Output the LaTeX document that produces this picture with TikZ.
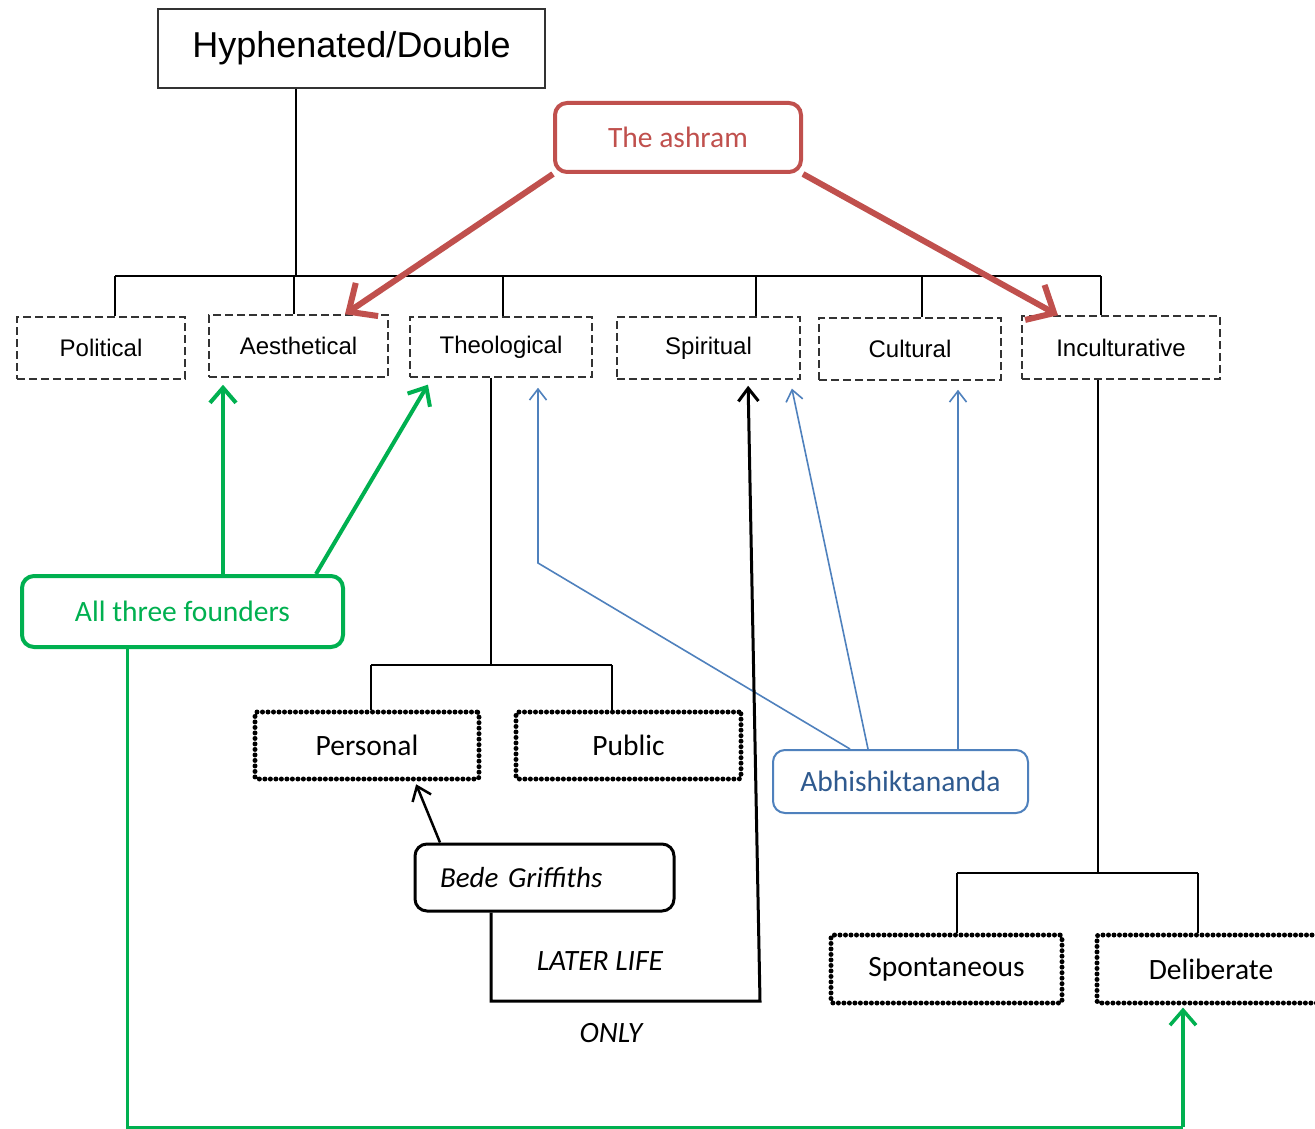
\documentclass[tikz,border=0pt]{standalone}
\usepackage{fontspec}
\setmainfont{Carlito}
\newfontfamily\arialf{Liberation Sans}
\usetikzlibrary{arrows.meta}
\definecolor{ashred}{HTML}{C0504D}
\definecolor{fgreen}{HTML}{00B050}
\definecolor{abblue}{HTML}{4F81BD}
\definecolor{abtext}{HTML}{2F5A8F}
\definecolor{treegray}{HTML}{333333}
\tikzset{
  box/.style={draw, inner sep=0pt, align=center},
  headbox/.style={box, draw=treegray, line width=1.5pt, font=\arialf\fontsize{36}{40}\selectfont},
  dashbox/.style={box, draw=treegray, line width=1.5pt, dash pattern=on 8pt off 4pt, font=\arialf\fontsize{24}{28}\selectfont},
  dotbox/.style={box, line width=5pt, dash pattern=on 0pt off 5.5pt, line cap=round, rounded corners=2pt, font=\fontsize{29.5}{34}\selectfont},
  callout/.style={box, rounded corners=12pt, font=\fontsize{29.5}{34}\selectfont},
  tree/.style={draw=black, line width=1.5pt},
  redarrow/.style={draw=ashred, line width=6pt, -{Straight Barb[length=22pt, width=40pt]}},
  greenarrow/.style={draw=fgreen, line width=4pt, -{Straight Barb[length=15pt, width=26pt]}},
  bluearrow/.style={draw=abblue, line width=1.6pt, -{Straight Barb[length=11pt, width=17pt]}},
  blackarrow/.style={draw=black, line width=3pt, -{Straight Barb[length=13pt, width=20pt]}},
  note/.style={font=\itshape\fontsize{29.5}{34}\selectfont}
}
\begin{document}
\begin{tikzpicture}[x=1pt, y=-1pt]
\useasboundingbox[fill=white] (0,0) rectangle (1315,1129);

% heading and main categories
\node[headbox, minimum width=387pt, minimum height=79pt] (top) at (351.5,48.5) {Hyphenated/Double};
\node[dashbox, minimum width=168pt, minimum height=62pt] (pol)  at (101,348)   {Political};
\node[dashbox, minimum width=179pt, minimum height=62pt] (aes)  at (298.5,346) {Aesthetical};
\node[dashbox, minimum width=182pt, minimum height=60pt] (theo) at (501,347)   {Theological};
\node[dashbox, minimum width=183pt, minimum height=62pt] (spir) at (708.5,348) {Spiritual};
\node[dashbox, minimum width=182pt, minimum height=62pt] (cult) at (910,349)   {Cultural};
\node[dashbox, minimum width=198pt, minimum height=63pt] (inc)  at (1121,347.5) {Inculturative};

% sub-categories
\node[dotbox, minimum width=224pt, minimum height=67pt] (pers) at (367,745.5)  {Personal};
\node[dotbox, minimum width=225pt, minimum height=67pt] (pub)  at (628.5,745.5) {Public};
\node[dotbox, minimum width=231pt, minimum height=68pt] (spon) at (946.5,969)  {Spontaneous};
\node[dotbox, minimum width=228pt, minimum height=68pt] (del)  at (1211,969)   {Deliberate};

% people
\node[callout, draw=ashred, line width=4pt, text=ashred, minimum width=246pt, minimum height=69pt] (ashram) at (678,137.5) {The ashram};
\node[callout, draw=fgreen, line width=4pt, text=fgreen, minimum width=321pt, minimum height=71pt] (founders) at (182.5,611.5) {All three founders};
\node[callout, draw=abblue, line width=2pt, text=abtext, minimum width=255pt, minimum height=63pt] (abhi) at (900.5,781.5) {Abhishiktananda};
\node[callout, draw=black, line width=3pt, text width=209pt, inner xsep=25pt, align=left, minimum height=67pt, font=\itshape\fontsize{29}{34}\selectfont] (bede) at (544.5,877.5) {Bede Griffiths};

\node[note] (later) at (600,961) {LATER LIFE};
\node[note] (only)  at (611,1033) {ONLY};

% tree connectors
\draw[tree] (top.south -| 296,0) -- (296,276);
\draw[tree] (115,276) -- (1101,276);
\draw[tree] (pol.north -| 115,0)  -- (115,276);
\draw[tree] (aes.north -| 294,0)  -- (294,276);
\draw[tree] (theo.north -| 503,0) -- (503,276);
\draw[tree] (spir.north -| 756,0) -- (756,276);
\draw[tree] (cult.north -| 922,0) -- (922,276);
\draw[tree] (inc.north -| 1101,0) -- (1101,276);

\draw[tree] (theo.south -| 491,0) -- (491,665);
\draw[tree] (371,665) -- (612,665);
\draw[tree] (pers.north -| 371,0) -- (371,665);
\draw[tree] (pub.north -| 612,0)  -- (612,665);

\draw[tree] (inc.south -| 1098,0) -- (1098,873);
\draw[tree] (957,873) -- (1198,873);
\draw[tree] (spon.north -| 957,0) -- (957,873);
\draw[tree] (del.north -| 1198,0) -- (1198,873);

% the ashram
\draw[redarrow] (ashram.south west) -- (aes.north -| 345,0);
\draw[redarrow] (ashram.south east) -- (inc.north -| 1058,0);

% all three founders
\draw[greenarrow, shorten >=7pt] (founders.north -| 223,0) -- (aes.south -| 223,0);
\draw[greenarrow, shorten >=8pt] (founders.north -| 316,0) -- (theo.south -| 432,0);
\draw[draw=fgreen, line width=3pt] (founders.south -| 127,0) -- (127,1127) -- (1183,1127);
\draw[greenarrow, line width=3.5pt, shorten >=2pt] (1183,1127) -- (del.south -| 1183,0);

% Abhishiktananda
\draw[bluearrow, shorten >=10pt] (abhi.north -| 850,0) -- (538,563) -- (theo.south -| 538,0);
\draw[bluearrow, shorten >=9pt]  (abhi.north -| 868,0) -- (spir.south -| 790,0);
\draw[bluearrow, shorten >=9pt]  (abhi.north -| 958,0) -- (cult.south -| 958,0);

% Bede Griffiths
\draw[blackarrow, line width=2.5pt, shorten >=3pt] (bede.north -| 440,0) -- (pers.south -| 415,0);
\draw[blackarrow, shorten >=6pt] (bede.south -| 491,0) -- (491,1001) -- (760,1001) -- (spir.south -| 748,0);
\end{tikzpicture}
\end{document}
